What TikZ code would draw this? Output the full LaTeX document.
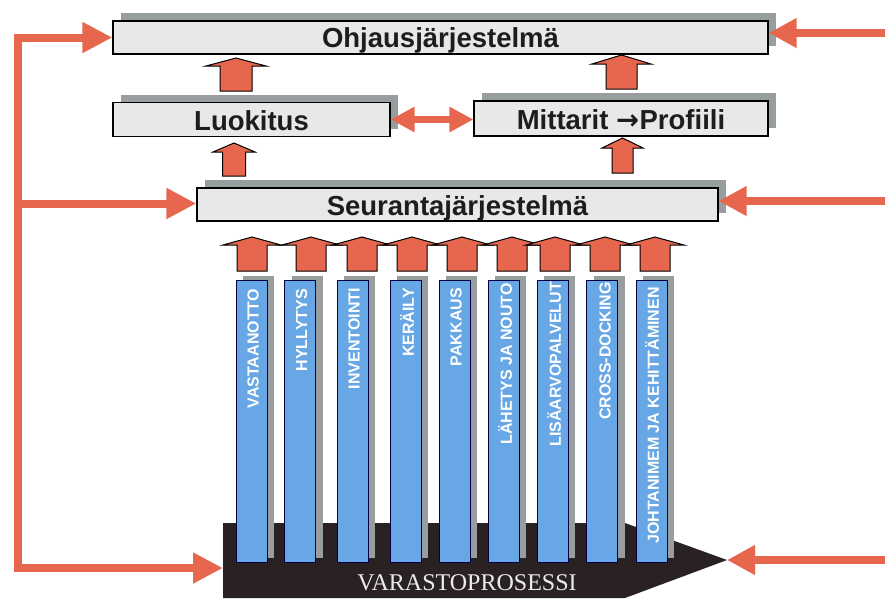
\documentclass[tikz,border=0pt]{standalone}
\usepackage{fontspec}
\setmainfont{Liberation Sans}
\newfontfamily\serifv{Liberation Serif}
\newfontfamily\dejavu{DejaVu Sans}
\usetikzlibrary{arrows.meta,shadows,calc}
\definecolor{redc}{RGB}{230,103,78}
\definecolor{bluec}{RGB}{103,167,229}
\definecolor{shadowc}{RGB}{152,158,160}
\definecolor{boxc}{RGB}{232,232,232}
\definecolor{basec}{RGB}{42,34,34}
\definecolor{textc}{RGB}{30,28,28}
\newcommand{\blkup}[6]{\draw[blk] (#1-#6,#4) -- (#1-#6,#3) -- (#1-#5,#3) -- (#1,#2) -- (#1+#5,#3) -- (#1+#6,#3) -- (#1+#6,#4) -- cycle;}
\begin{document}
\begin{tikzpicture}[x=1pt,y=-1pt,
  box/.style={draw=black, line width=1.2pt, fill=boxc, inner sep=0pt,
    general shadow={fill=shadowc, shadow xshift=8pt, shadow yshift=8pt},
    font=\bfseries\fontsize{27.5}{30}\selectfont, text=textc,
    text height=19.7pt, text depth=0pt},
  col/.style={draw=black!75!blue, line width=0.8pt, fill=bluec, inner sep=0pt,
    minimum width=31pt, minimum height=282pt,
    general shadow={fill=shadowc, shadow xshift=7pt, shadow yshift=4pt}},
  coltext/.style={rotate=90, anchor=east, text=white, inner sep=0pt,
    font=\bfseries\fontsize{16}{18}\selectfont},
  blk/.style={draw=black, line width=1pt, fill=redc, line join=miter},
  fb/.style={draw=redc, line width=8pt},
  bigtip/.style={-{Triangle[length=30pt,width=29pt]}},
  rtip/.style={-{Triangle[length=28pt,width=28pt]}}
]
\useasboundingbox (0,0) rectangle (885,598);
\clip (0,0) rectangle (885,598);
\fill[white] (0,0) rectangle (885,598);

% boxes
\node[box, minimum width=655pt, minimum height=33pt, yshift=-1pt] (ohj) at (440.5,36.5) {Ohjausjärjestelmä};
\node[box, minimum width=277pt, minimum height=34pt] (luok) at (251.5,119.5) {\raisebox{-1.5pt}{Luokitus}};
\node[box, minimum width=294pt, minimum height=35pt] (mitt) at (621,118.5) {\raisebox{-1.5pt}{Mittarit {\dejavu\bfseries\raisebox{0.5pt}{→}}\kern0.5pt Profiili}};
\node[box, minimum width=521pt, minimum height=33pt] (seur) at (457.5,204.5) {\raisebox{-1pt}{Seurantajärjestelmä}};

% block arrows between boxes
\blkup{236}{58}{66}{91}{30}{16}
\blkup{234}{143}{152}{176}{21}{11.5}
\blkup{621.5}{55}{64}{89}{29.5}{15.5}
\blkup{622.5}{138}{148}{173}{20.5}{10.5}

% double arrow
\draw[redc, line width=7pt, {Triangle[length=24pt,width=24pt]}-{Triangle[length=24pt,width=24pt]}]
  (luok.east) -- (luok.east -| mitt.west);

% base process arrow
\coordinate (basew) at (223,568);
\coordinate (basetip) at (727,560);
\fill[basec] (223,523) -- (625,523) -- (basetip) -- (625,598) -- (223,598) -- cycle;
\node[font=\serifv\fontsize{24}{26}\selectfont, text=white!92!black, inner sep=0pt] (vp) at (467,583) {VARASTOPROSESSI};

% arrows above columns
\foreach \cx in {252,311,362,412,462,512,555,605,655}{
  \blkup{\cx}{237}{245}{271}{29}{15}
}

% columns
\node[col] (c1) at (251.5,421) {};
\node[col] (c2) at (300,421) {};
\node[col] (c3) at (352.5,421) {};
\node[col] (c4) at (405.5,421) {};
\node[col] (c5) at (454.5,421) {};
\node[col] (c6) at (503.5,421) {};
\node[col] (c7) at (552.5,421) {};
\node[col] (c8) at (602,421) {};
\node[col] (c9) at (651.5,421) {};
\node[coltext] (t1) at (253,289) {VASTAANOTTO};
\node[coltext] (t2) at (301.5,289) {HYLLYTYS};
\node[coltext] (t3) at (354,288) {INVENTOINTI};
\node[coltext] (t4) at (407,288) {KERÄILY};
\node[coltext] (t5) at (456,288) {PAKKAUS};
\node[coltext] (t6) at (505,283) {LÄHETYS JA NOUTO};
\node[coltext] (t7) at (554,282) {LISÄARVOPALVELUT};
\node[coltext] (t8) at (605,282) {CROSS-DOCKING};
\node[coltext] (t9) at (652,287) {JOHTANIMEM JA KEHITTÄMINEN};

% feedback lines
\coordinate (lt) at (17.5,37.5);
\coordinate (lm) at (17.5,203.5);
\coordinate (lb) at (17.5,568);
\coordinate (r1) at (892,33);
\coordinate (r2) at (892,201);
\coordinate (r3) at (892,560);
\draw[fb, bigtip] (lb) -- (lt) -- (ohj.west |- lt);
\draw[fb, bigtip] (lt) -- (lb) -- (basew);
\draw[fb, bigtip] (lm) -- (seur.west |- lm);
\draw[fb, rtip] (r1) -- (ohj.east |- r1);
\draw[fb, rtip] (r2) -- (seur.east |- r2);
\draw[fb, rtip] (r3) -- (basetip);
\end{tikzpicture}
\end{document}
